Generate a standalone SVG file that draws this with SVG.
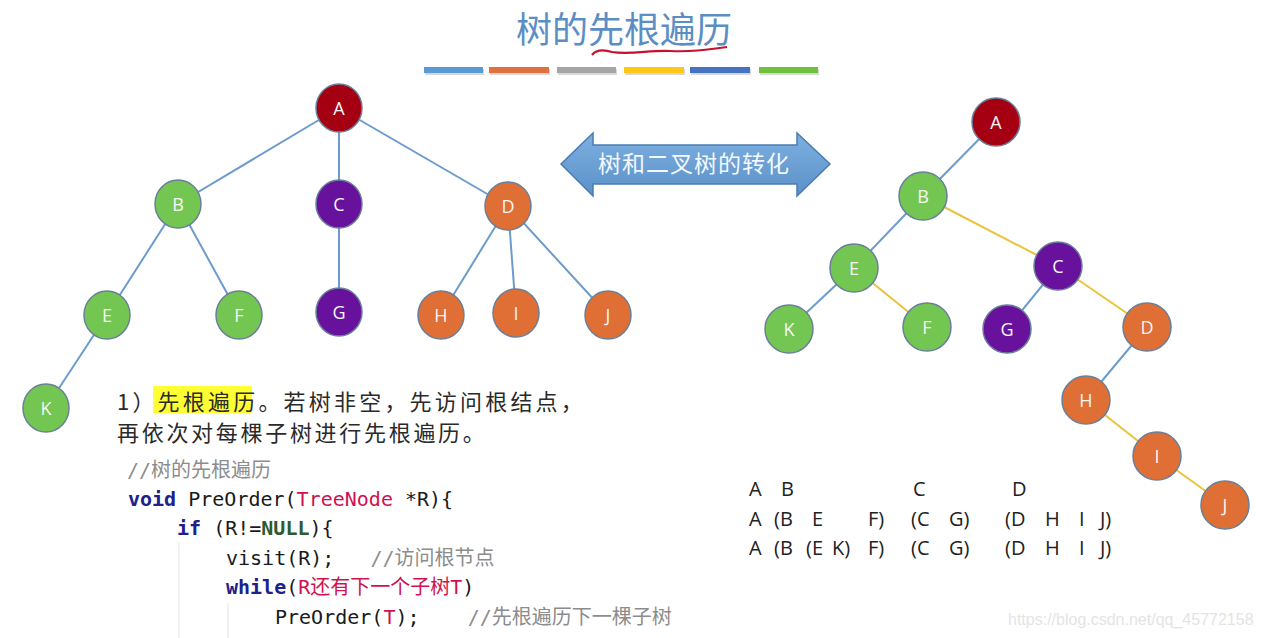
<svg xmlns="http://www.w3.org/2000/svg" width="1261" height="638" viewBox="0 0 1261 638">
<style>
.edge{stroke:#6d9bcb;stroke-width:2;fill:none}
.yel{stroke:#e9c43a;stroke-width:2;fill:none}
.nd{stroke:#6a7f99;stroke-width:1.5}
.red{fill:#a50012}.grn{fill:#74c653}.pur{fill:#68119c}.org{fill:#df6f35}
.lbl{font-family:"Open Sans","Liberation Sans",sans-serif;font-size:18px;fill:#f6f6f6;text-anchor:middle}
.cn{font-family:"Noto Sans CJK SC",sans-serif}
.code{font-family:"DejaVu Sans Mono","Noto Sans CJK SC",monospace;font-size:20px;fill:#1a1a1a}
.kw{fill:#20208a;font-weight:bold}
.ty{fill:#cf1150}
.nl{fill:#2e5a2e;font-weight:bold}
.cm{fill:#8c8c8c}
.seq{font-family:"Open Sans","Liberation Sans",sans-serif;font-size:20px;fill:#222}
</style>
<defs>
<linearGradient id="ag" x1="0" y1="0" x2="0" y2="1">
<stop offset="0" stop-color="#7db0e0"/>
<stop offset="1" stop-color="#5b91c9"/>
</linearGradient>
</defs>
<rect width="1261" height="638" fill="#ffffff"/>

<!-- title -->
<g id="title">
<text x="624" y="43" class="cn" font-size="36" fill="#5b8ec4" text-anchor="middle">树的先根遍历</text>
<path d="M592,55 C596,50 602,49 612,52 C630,55 650,50 670,51 C690,52 705,50 727,47" stroke="#c8102e" stroke-width="2.2" fill="none"/>
<g>
<rect x="425" y="69" width="59" height="6" fill="#d8d8d8"/>
<rect x="490" y="69" width="60" height="6" fill="#d8d8d8"/>
<rect x="558" y="69" width="59" height="6" fill="#d8d8d8"/>
<rect x="625" y="69" width="60" height="6" fill="#d8d8d8"/>
<rect x="691" y="69" width="60" height="6" fill="#d8d8d8"/>
<rect x="760" y="69" width="59" height="6" fill="#d8d8d8"/>
<rect x="424" y="67" width="59" height="6" fill="#5b9bd5"/>
<rect x="489" y="67" width="60" height="6" fill="#e07040"/>
<rect x="557" y="67" width="59" height="6" fill="#a5a5a5"/>
<rect x="624" y="67" width="60" height="6" fill="#ffc819"/>
<rect x="690" y="67" width="60" height="6" fill="#4472c4"/>
<rect x="759" y="67" width="59" height="6" fill="#70c040"/>
</g>
</g>

<!-- double arrow -->
<g id="convert-arrow">
<polygon points="561,164 593,133 593,145 797,145 797,133 830,164 797,196 797,184 593,184 593,196" fill="url(#ag)" stroke="#4a7cb0" stroke-width="1.5"/>
<text x="694" y="172" class="cn" font-size="23" fill="#f4f8ff" text-anchor="middle" letter-spacing="1">树和二叉树的转化</text>
</g>

<!-- connectors -->
<g id="connectors">
<line class="edge" x1="339" y1="108" x2="178" y2="204"/>
<line class="edge" x1="339" y1="108" x2="339" y2="204"/>
<line class="edge" x1="339" y1="108" x2="508" y2="206"/>
<line class="edge" x1="178" y1="204" x2="107" y2="315"/>
<line class="edge" x1="178" y1="204" x2="239" y2="315"/>
<line class="edge" x1="339" y1="204" x2="339" y2="312"/>
<line class="edge" x1="508" y1="206" x2="441" y2="315"/>
<line class="edge" x1="508" y1="206" x2="516" y2="313"/>
<line class="edge" x1="508" y1="206" x2="608" y2="315"/>
<line class="edge" x1="107" y1="315" x2="46" y2="408"/>

<line class="edge" x1="996" y1="122" x2="923" y2="196"/>
<line class="edge" x1="923" y1="196" x2="854" y2="268"/>
<line class="yel" x1="923" y1="196" x2="1058" y2="266"/>
<line class="edge" x1="854" y1="268" x2="789" y2="329"/>
<line class="yel" x1="854" y1="268" x2="927" y2="327"/>
<line class="edge" x1="1058" y1="266" x2="1007" y2="329"/>
<line class="yel" x1="1058" y1="266" x2="1147" y2="327"/>
<line class="edge" x1="1147" y1="327" x2="1086" y2="400"/>
<line class="yel" x1="1086" y1="400" x2="1157" y2="456"/>
<line class="yel" x1="1157" y1="456" x2="1225" y2="505"/>
</g>

<!-- left tree nodes -->
<g id="L-A"><ellipse class="nd red" cx="339" cy="108" rx="23" ry="24"/><text class="lbl" x="339" y="115">A</text></g>
<g id="L-B"><ellipse class="nd grn" cx="178" cy="204" rx="23" ry="24"/><text class="lbl" x="178" y="211">B</text></g>
<g id="L-C"><ellipse class="nd pur" cx="339" cy="204" rx="23" ry="24"/><text class="lbl" x="339" y="211">C</text></g>
<g id="L-D"><ellipse class="nd org" cx="508" cy="206" rx="23" ry="24"/><text class="lbl" x="508" y="213">D</text></g>
<g id="L-E"><ellipse class="nd grn" cx="107" cy="315" rx="23" ry="24"/><text class="lbl" x="107" y="322">E</text></g>
<g id="L-F"><ellipse class="nd grn" cx="239" cy="315" rx="23" ry="24"/><text class="lbl" x="239" y="322">F</text></g>
<g id="L-G"><ellipse class="nd pur" cx="339" cy="312" rx="23" ry="24"/><text class="lbl" x="339" y="319">G</text></g>
<g id="L-H"><ellipse class="nd org" cx="441" cy="315" rx="23" ry="24"/><text class="lbl" x="441" y="322">H</text></g>
<g id="L-I"><ellipse class="nd org" cx="516" cy="313" rx="23" ry="24"/><text class="lbl" x="516" y="320">I</text></g>
<g id="L-J"><ellipse class="nd org" cx="608" cy="315" rx="23" ry="24"/><text class="lbl" x="608" y="322">J</text></g>
<g id="L-K"><ellipse class="nd grn" cx="46" cy="408" rx="23" ry="24"/><text class="lbl" x="46" y="415">K</text></g>

<!-- right tree nodes -->
<g id="R-A"><circle class="nd red" cx="996" cy="122" r="24"/><text class="lbl" x="996" y="129">A</text></g>
<g id="R-B"><circle class="nd grn" cx="923" cy="196" r="24"/><text class="lbl" x="923" y="203">B</text></g>
<g id="R-E"><circle class="nd grn" cx="854" cy="268" r="24"/><text class="lbl" x="854" y="275">E</text></g>
<g id="R-C"><circle class="nd pur" cx="1058" cy="266" r="24"/><text class="lbl" x="1058" y="273">C</text></g>
<g id="R-K"><circle class="nd grn" cx="789" cy="329" r="24"/><text class="lbl" x="789" y="336">K</text></g>
<g id="R-F"><circle class="nd grn" cx="927" cy="327" r="24"/><text class="lbl" x="927" y="334">F</text></g>
<g id="R-G"><circle class="nd pur" cx="1007" cy="329" r="24"/><text class="lbl" x="1007" y="336">G</text></g>
<g id="R-D"><circle class="nd org" cx="1147" cy="327" r="24"/><text class="lbl" x="1147" y="334">D</text></g>
<g id="R-H"><circle class="nd org" cx="1086" cy="400" r="24"/><text class="lbl" x="1086" y="407">H</text></g>
<g id="R-I"><circle class="nd org" cx="1157" cy="456" r="24"/><text class="lbl" x="1157" y="463">I</text></g>
<g id="R-J"><circle class="nd org" cx="1225" cy="505" r="24"/><text class="lbl" x="1225" y="512">J</text></g>

<!-- description -->
<g id="description">
<rect x="153" y="386" width="99" height="27" fill="#ffff33"/>
<text x="117" y="410" class="cn" font-size="22" fill="#2a2a2a" letter-spacing="3.2">1）先根遍历。若树非空，先访问根结点，</text>
<text x="117" y="441" class="cn" font-size="22" fill="#2a2a2a" letter-spacing="2.7">再依次对每棵子树进行先根遍历。</text>
</g>

<!-- code -->
<g id="code">
<line x1="179" y1="542" x2="179" y2="638" stroke="#ececec" stroke-width="1.5"/>
<line x1="228" y1="603" x2="228" y2="638" stroke="#ececec" stroke-width="1.5"/>
<text x="127" y="477" class="code cm">//树的先根遍历</text>
<text x="128" y="506" class="code" xml:space="preserve"><tspan class="kw">void</tspan> PreOrder(<tspan class="ty">TreeNode</tspan> *R){</text>
<text x="177" y="535" class="code" xml:space="preserve"><tspan class="kw">if</tspan> (R!=<tspan class="nl">NULL</tspan>){</text>
<text x="226" y="565" class="code" xml:space="preserve">visit(R);   <tspan class="cm">//访问根节点</tspan></text>
<text x="226" y="594" class="code" xml:space="preserve"><tspan class="kw">while</tspan>(<tspan class="ty">R还有下一个子树T</tspan>)</text>
<text x="275" y="624" class="code" xml:space="preserve">PreOrder(<tspan class="ty">T</tspan>);    <tspan class="cm">//先根遍历下一棵子树</tspan></text>
</g>

<!-- sequences -->
<g id="sequences">
<text class="seq" y="496"><tspan x="749">A</tspan><tspan x="781">B</tspan><tspan x="913">C</tspan><tspan x="1012">D</tspan></text>
<text class="seq" y="526"><tspan x="749">A</tspan><tspan x="774">(B</tspan><tspan x="812">E</tspan><tspan x="868">F)</tspan><tspan x="911">(C</tspan><tspan x="949">G)</tspan><tspan x="1005">(D</tspan><tspan x="1045">H</tspan><tspan x="1079">I</tspan><tspan x="1100">J)</tspan></text>
<text class="seq" y="555"><tspan x="749">A</tspan><tspan x="774">(B</tspan><tspan x="806">(E</tspan><tspan x="832">K)</tspan><tspan x="868">F)</tspan><tspan x="911">(C</tspan><tspan x="949">G)</tspan><tspan x="1005">(D</tspan><tspan x="1045">H</tspan><tspan x="1079">I</tspan><tspan x="1100">J)</tspan></text>
</g>

<text x="1008" y="625" font-family="Liberation Sans,sans-serif" font-size="16" fill="#e4e4e4">https://blog.csdn.net/qq_45772158</text>
</svg>
